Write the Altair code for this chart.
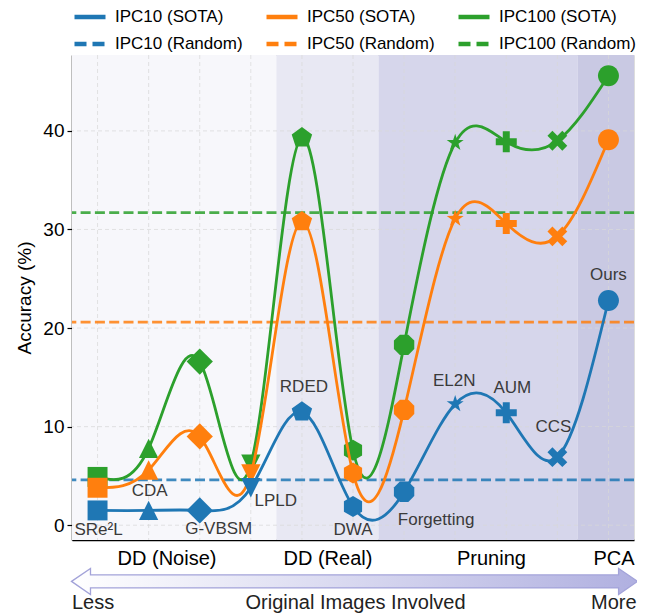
import numpy as np
import pandas as pd
import altair as alt

# ---------------- data ----------------
methods = ["SRe²L", "CDA", "G-VBSM", "LPLD", "RDED", "DWA",
           "Forgetting", "EL2N", "AUM", "CCS", "Ours"]
ipc10_sota = [1.5, 1.5, 1.5, 3.8, 11.5, 1.9, 3.4, 12.3, 11.4, 6.9, 22.8]
ipc50_sota = [3.8, 5.6, 9.0, 5.2, 30.8, 5.3, 11.7, 31.1, 30.6, 29.3, 39.1]
ipc100_sota = [4.9, 7.8, 16.6, 6.2, 39.3, 7.6, 18.3, 38.8, 38.9, 39.0, 45.6]
ipc_random = [4.6, 20.6, 31.7]
ipc_names = ["IPC10", "IPC50", "IPC100"]

group_names = ["DD (Noise)", "DD (Real)", "Pruning", "PCA"]
group_start = [-0.5, 3.5, 5.5, 9.4]
group_end = [3.5, 5.5, 9.4, 10.5]
group_label_pos = [1.35, 4.5, 7.7, 10.1]

y_ticks = [0, 10, 20, 30, 40]

# ---------------- style ----------------
FONT = "Liberation Sans, Arial, sans-serif"
W, H = 562, 485
XDOM = [-0.5, 10.5]
YDOM = [-1.5, 47.7]
COLORS = ["#1f77b4", "#ff7f0e", "#2ca02c"]
BAND_COLORS = ["#f7f7fb", "#e8e8f3", "#d6d6eb", "#c9c9e3"]
MARKER_SIZE = 441
ARROW_Y = -5.7      # data units, below the axis
ARROW_X = 5.03
BOTTOM_TEXT_Y = -7.9
LABEL_OFFSETS = {   # (dx, dy) in pixels from the IPC10 point
    "SRe²L": (1, 20), "CDA": (1, -19), "G-VBSM": (19, 19), "LPLD": (25, 13),
    "RDED": (2, -25), "DWA": (0, 24), "Forgetting": (32, 28), "EL2N": (-1, -23),
    "AUM": (6, -25), "CCS": (-4, -30), "Ours": (0, -25),
}


def fmt(pts):
    return "M" + "L".join(f"{x:.3f},{y:.3f}" for x, y in pts) + "Z"


def poly(n, r, rot):
    a = np.deg2rad(rot + 360.0 * np.arange(n) / n)
    return fmt(zip(r * np.cos(a), -r * np.sin(a)))


def star(r_out, r_in):
    a = np.deg2rad(90 + 36.0 * np.arange(10))
    r = np.where(np.arange(10) % 2 == 0, r_out, r_in)
    return fmt(zip(r * np.cos(a), -r * np.sin(a)))


t = 1.0 / 3.0
plus_pts = [(-t, -1), (t, -1), (t, -t), (1, -t), (1, t), (t, t), (t, 1), (-t, 1),
            (-t, t), (-1, t), (-1, -t), (-t, -t)]
c45 = np.sqrt(0.5)
x_pts = [((px - py) * c45, (px + py) * c45) for px, py in plus_pts]

SHAPES = {
    "SRe²L": "M-0.95,-0.95H0.95V0.95H-0.95Z",
    "CDA": "M0,-0.92L0.92,0.92L-0.92,0.92Z",
    "G-VBSM": "M0,-1.25L1.25,0L0,1.25L-1.25,0Z",
    "LPLD": "M0,0.92L0.92,-0.92L-0.92,-0.92Z",
    "RDED": poly(5, 1.02, 90),
    "DWA": poly(6, 1.0, 90),
    "Forgetting": poly(8, 1.05, 22.5),
    "EL2N": star(0.85, 0.33),
    "AUM": fmt(plus_pts),
    "CCS": fmt(x_pts),
    "Ours": "M1,0A1,1,0,1,1,-1,0A1,1,0,1,1,1,0Z",
}

hh, bh, hl = 0.046, 0.023, 0.067
ARROW_PATH = fmt([(-1, 0), (-1 + hl, -hh), (-1 + hl, -bh), (1 - hl, -bh), (1 - hl, -hh),
                  (1, 0), (1 - hl, hh), (1 - hl, bh), (-1 + hl, bh), (-1 + hl, hh)])
ARROW_WIDTH = 566

# ---------------- tables ----------------
sota_names = [f"{n} (SOTA)" for n in ipc_names]
random_names = [f"{n} (Random)" for n in ipc_names]
series_values = [ipc10_sota, ipc50_sota, ipc100_sota]

sota_df = pd.DataFrame([
    {"series": s, "method": m, "idx": i, "acc": v}
    for s, vals in zip(sota_names, series_values)
    for i, (m, v) in enumerate(zip(methods, vals))
])
random_df = pd.DataFrame({"series": random_names, "acc": ipc_random})
legend_df = pd.DataFrame({"series": sota_names + random_names,
                          "acc": ipc_random + ipc_random})
band_df = pd.DataFrame({"group": group_names, "start": group_start, "end": group_end})
vgrid_df = pd.DataFrame({"idx": list(range(len(methods)))})
hgrid_df = pd.DataFrame({"acc": y_ticks})

# ---------------- scales / axes ----------------
x_scale = alt.Scale(domain=XDOM, nice=False, zero=False)
y_scale = alt.Scale(domain=YDOM, nice=False, zero=False)

label_expr = ""
for name, end in zip(group_names[:-1], group_end[:-1]):
    label_expr += f"datum.value < {end} ? '{name}' : "
label_expr += f"'{group_names[-1]}'"

x_axis = alt.Axis(values=group_label_pos, labelExpr=label_expr, ticks=False, grid=False,
                  domainColor="black", domainWidth=1.5, labelFontSize=20, labelColor="black",
                  labelFont=FONT, labelPadding=8, labelFlush=False, labelOverlap=False,
                  labelBound=False, title=None)
y_axis = alt.Axis(values=y_ticks, title="Accuracy (%)", grid=False, domainColor="black",
                  domainWidth=1.5, tickColor="black", tickWidth=1.2, tickSize=5,
                  labelFontSize=19, labelColor="black", labelPadding=3, labelFont=FONT,
                  titleFontSize=19, titleFontWeight="normal", titleColor="black",
                  titlePadding=8, titleFont=FONT)


def X(field):
    return alt.X(field, type="quantitative", scale=x_scale, axis=x_axis)


def Y(field):
    return alt.Y(field, type="quantitative", scale=y_scale, axis=y_axis)


legend = alt.Legend(
    title=None, orient="none", legendX=0, legendY=-56, columns=3, direction="horizontal",
    gridAlign="each", symbolType="stroke", symbolSize=31 * 31, symbolStrokeWidth=4.5,
    symbolOpacity=1, labelFontSize=17, labelFont=FONT, labelColor="black", labelOffset=7,
    columnPadding=14, rowPadding=0,
)
all_names = sota_names + random_names
color_enc = alt.Color("series:N", scale=alt.Scale(domain=all_names, range=COLORS + COLORS),
                      legend=legend)
dash_enc = alt.StrokeDash("series:N", scale=alt.Scale(
    domain=all_names, range=[[1, 0]] * 3 + [[12, 6]] * 3), legend=legend)

# ---------------- layers ----------------
bands = alt.Chart(band_df).mark_rect().encode(
    x=X("start"), x2="end",
    fill=alt.Fill("group:N", scale=alt.Scale(domain=group_names, range=BAND_COLORS), legend=None),
)
# invisible layer that only carries the legend (solid / dashed keys)
legend_layer = alt.Chart(legend_df).mark_rule(opacity=0).encode(
    y=Y("acc"), color=color_enc, strokeDash=dash_enc)
vgrid = alt.Chart(vgrid_df).mark_rule(color="#d8d8d8", strokeDash=[4, 3], strokeWidth=0.9,
                                      opacity=0.8).encode(x=X("idx"))
hgrid = alt.Chart(hgrid_df).mark_rule(color="#d8d8d8", strokeDash=[4, 3], strokeWidth=0.9,
                                      opacity=0.8).encode(y=Y("acc"))
rand_rules = alt.Chart(random_df).mark_rule(strokeDash=[10, 4.3], strokeWidth=2.7,
                                            opacity=0.85).encode(y=Y("acc"), color=color_enc)

series_layers = []
for s in reversed(sota_names):
    sub = sota_df[sota_df["series"] == s]
    series_layers.append(alt.Chart(sub).mark_line(interpolate="natural", strokeWidth=2.8).encode(
        x=X("idx"), y=Y("acc"), color=color_enc, order="idx:Q"))
    series_layers.append(alt.Chart(sub).mark_point(filled=True, size=MARKER_SIZE, opacity=1,
                                                   strokeWidth=0).encode(
        x=X("idx"), y=Y("acc"), color=color_enc,
        shape=alt.Shape("method:N", scale=alt.Scale(domain=methods,
                                                    range=[SHAPES[m] for m in methods]),
                        legend=None)))

label_layers = []
blue = sota_df[sota_df["series"] == sota_names[0]]
for m in methods:
    dx, dy = LABEL_OFFSETS[m]
    label_layers.append(alt.Chart(blue[blue["method"] == m]).mark_text(
        dx=dx, dy=dy, fontSize=17, font=FONT, color="#3a3a3a", align="center",
        baseline="middle").encode(x=X("idx"), y=Y("acc"), text="method:N"))

one = alt.Data(values=[{}])
arrow = alt.Chart(one).mark_point(
    shape=ARROW_PATH, size=ARROW_WIDTH ** 2, filled=True, opacity=1,
    fill=alt.LinearGradient(gradient="linear", x1=0, x2=1, y1=0, y2=0,
                            stops=[alt.GradientStop(color="#ffffff", offset=0),
                                   alt.GradientStop(color="#b0b0e0", offset=1)]),
    stroke="#a3a3d9", strokeWidth=1.3, clip=False,
).encode(x=alt.datum(ARROW_X, scale=x_scale), y=alt.datum(ARROW_Y, scale=y_scale))

bottom_texts = []
for txt, xv, al in [("Less", XDOM[0], "left"), ("Original Images Involved", 5.05, "center"),
                    ("More", 10.55, "right")]:
    bottom_texts.append(alt.Chart(one).mark_text(
        text=txt, fontSize=20, font=FONT, color="#222222", align=al, baseline="middle",
        clip=False).encode(x=alt.datum(xv, scale=x_scale), y=alt.datum(BOTTOM_TEXT_Y, scale=y_scale)))

chart = alt.layer(
    bands, legend_layer, vgrid, hgrid, rand_rules, *series_layers, *label_layers, arrow,
    *bottom_texts
).properties(
    width=W, height=H,
    autosize=alt.AutoSizeParams(type="none"),
    padding={"left": 64, "top": 47, "right": 3, "bottom": 75},
).configure_view(stroke="#555555", strokeWidth=1.5).configure(font=FONT)

chart.save("out.html", embed_options={"renderer": "svg", "actions": False})
